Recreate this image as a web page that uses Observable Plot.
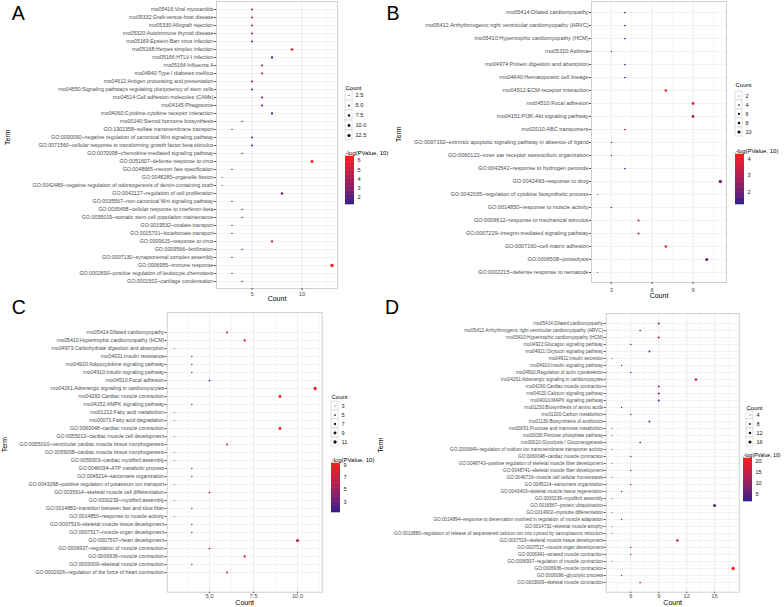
<!DOCTYPE html>
<html><head><meta charset="utf-8">
<script src="https://cdn.jsdelivr.net/npm/d3@7"></script>
<script src="https://cdn.jsdelivr.net/npm/@observablehq/plot@0.6"></script>
<style>
html,body{margin:0;padding:0;background:#fff;}
#fig{position:relative;width:784px;height:607px;overflow:hidden;font-family:'Liberation Sans',Arial,Helvetica,sans-serif;background:#fff;}
.letter{position:absolute;font-size:19.5px;line-height:1;color:#000;}
</style></head><body><div id="fig"></div>
<script>
// ---------- Panel A ----------
const termsA = [
"rno05416:Viral myocarditis","rno05332:Graft-versus-host disease","rno05330:Allograft rejection",
"rno05320:Autoimmune thyroid disease","rno05169:Epstein-Barr virus infection","rno05168:Herpes simplex infection",
"rno05166:HTLV-I infection","rno05164:Influenza A","rno04940:Type I diabetes mellitus",
"rno04612:Antigen processing and presentation","rno04550:Signaling pathways regulating pluripotency of stem cells",
"rno04514:Cell adhesion molecules (CAMs)","rno04145:Phagosome","rno04060:Cytokine-cytokine receptor interaction",
"rno00140:Steroid hormone biosynthesis","GO:1902358~sulfate transmembrane transport",
"GO:0090090~negative regulation of canonical Wnt signaling pathway",
"GO:0071560~cellular response to transforming growth factor beta stimulus",
"GO:0070098~chemokine-mediated signaling pathway","GO:0051607~defense response to virus",
"GO:0048665~neuron fate specification","GO:0048285~organelle fission",
"GO:0042489~negative regulation of odontogenesis of dentin-containing tooth",
"GO:0042127~regulation of cell proliferation","GO:0035567~non-canonical Wnt signaling pathway",
"GO:0035458~cellular response to interferon-beta","GO:0035019~somatic stem cell population maintenance",
"GO:0019532~oxalate transport","GO:0015701~bicarbonate transport","GO:0009615~response to virus",
"GO:0009566~fertilization","GO:0007130~synaptonemal complex assembly","GO:0006955~immune response",
"GO:0002690~positive regulation of leukocyte chemotaxis","GO:0001502~cartilage condensation"];
const countA = [5,5,5,5,5,9,7,6,6,5,5,6,6,7,4,3,5,5,4,11,3,2,2,8,3,4,4,3,3,7,4,3,13,3,4];
const logpA  = [3.5,3.8,3.8,3.6,2.2,5.3,1.8,2.7,4.8,2.5,1.9,2.4,2.3,2.2,2.0,1.9,1.6,1.6,1.7,6.1,1.5,1.4,1.4,2.0,1.5,2.4,2.0,1.6,1.4,4.6,1.5,1.5,6.4,1.6,3.0];
const xTicksA = [5, 10];
const sizeBreaksA = [2.5, 5, 7.5, 10, 12.5];
const colorTicksA = [2, 3, 4, 5, 6];
const colorDomainA = [1.25, 6.45];

// ---------- Panel B ----------
const termsB = [
"rno05414:Dilated cardiomyopathy","rno05412:Arrhythmogenic right ventricular cardiomyopathy (ARVC)",
"rno05410:Hypertrophic cardiomyopathy (HCM)","rno05310:Asthma","rno04974:Protein digestion and absorption",
"rno04640:Hematopoietic cell lineage","rno04512:ECM-receptor interaction","rno04510:Focal adhesion",
"rno04151:PI3K-Akt signaling pathway","rno02010:ABC transporters",
"GO:0097192~extrinsic apoptotic signaling pathway in absence of ligand",
"GO:0060122~inner ear receptor stereocilium organization","GO:0042542~response to hydrogen peroxide",
"GO:0042493~response to drug","GO:0042035~regulation of cytokine biosynthetic process",
"GO:0014850~response to muscle activity","GO:0009612~response to mechanical stimulus",
"GO:0007229~integrin-mediated signaling pathway","GO:0007160~cell-matrix adhesion",
"GO:0006508~proteolysis","GO:0002215~defense response to nematode"];
const countB = [4,4,4,3,4,4,7,9,9,4,3,3,4,11,2,3,5,5,7,10,2];
const logpB  = [1.8,1.8,1.7,1.5,1.6,1.5,4.0,3.9,3.0,2.3,1.5,1.4,1.6,2.2,1.3,1.4,2.6,2.6,4.26,1.9,1.3];
const xTicksB = [3, 6, 9];
const sizeBreaksB = [2, 4, 6, 8, 10];
const colorTicksB = [2, 3, 4];
const colorDomainB = [1.26, 4.26];

// ---------- Panel C ----------
const termsC = [
"rno05414:Dilated cardiomyopathy","rno05410:Hypertrophic cardiomyopathy (HCM)",
"rno04973:Carbohydrate digestion and absorption","rno04931:Insulin resistance",
"rno04920:Adipocytokine signaling pathway","rno04910:Insulin signaling pathway","rno04510:Focal adhesion",
"rno04261:Adrenergic signaling in cardiomyocytes","rno04260:Cardiac muscle contraction",
"rno04152:AMPK signaling pathway","rno01212:Fatty acid metabolism","rno00071:Fatty acid degradation",
"GO:0060048~cardiac muscle contraction","GO:0055013~cardiac muscle cell development",
"GO:0055010~ventricular cardiac muscle tissue morphogenesis","GO:0055008~cardiac muscle tissue morphogenesis",
"GO:0055003~cardiac myofibril assembly","GO:0046034~ATP metabolic process","GO:0045214~sarcomere organization",
"GO:0043268~positive regulation of potassium ion transport","GO:0035914~skeletal muscle cell differentiation",
"GO:0030239~myofibril assembly","GO:0014883~transition between fast and slow fiber",
"GO:0014850~response to muscle activity","GO:0007519~skeletal muscle tissue development",
"GO:0007517~muscle organ development","GO:0007507~heart development",
"GO:0006937~regulation of muscle contraction","GO:0006936~muscle contraction",
"GO:0003009~skeletal muscle contraction","GO:0002026~regulation of the force of heart contraction"];
const countC = [6,7,3,4,4,4,5,11,9,4,3,3,9,3,6,3,3,4,4,3,5,3,4,3,4,4,10,5,7,4,6];
const logpC  = [7.0,7.6,2.0,2.5,2.5,2.0,1.6,9.2,8.8,3.0,1.8,1.7,9.0,2.2,7.8,3.0,2.4,3.2,3.5,2.2,4.2,2.8,4.0,2.8,2.5,2.3,6.3,5.0,8.0,4.0,8.0];
const xTicksC = [5, 7.5, 10];
const sizeBreaksC = [3, 5, 7, 9, 11];
const colorTicksC = [3, 5, 7, 9];
const colorDomainC = [1.3, 9.2];

// ---------- Panel D ----------
const termsD = [
"rno05414:Dilated cardiomyopathy","rno05412:Arrhythmogenic right ventricular cardiomyopathy (ARVC)",
"rno05410:Hypertrophic cardiomyopathy (HCM)","rno04922:Glucagon signaling pathway",
"rno04921:Oxytocin signaling pathway","rno04911:Insulin secretion","rno04910:Insulin signaling pathway",
"rno04810:Regulation of actin cytoskeleton","rno04261:Adrenergic signaling in cardiomyocytes",
"rno04260:Cardiac muscle contraction","rno04020:Calcium signaling pathway","rno04010:MAPK signaling pathway",
"rno01230:Biosynthesis of amino acids","rno01200:Carbon metabolism","rno01130:Biosynthesis of antibiotics",
"rno00051:Fructose and mannose metabolism","rno00030:Pentose phosphate pathway",
"rno00010:Glycolysis / Gluconeogenesis",
"GO:2000649~regulation of sodium ion transmembrane transporter activity",
"GO:0060048~cardiac muscle contraction","GO:0048743~positive regulation of skeletal muscle fiber development",
"GO:0048741~skeletal muscle fiber development","GO:0046716~muscle cell cellular homeostasis",
"GO:0045214~sarcomere organization","GO:0043403~skeletal muscle tissue regeneration",
"GO:0030239~myofibril assembly","GO:0016567~protein ubiquitination","GO:0014902~myotube differentiation",
"GO:0014894~response to denervation involved in regulation of muscle adaptation",
"GO:0014732~skeletal muscle atrophy",
"GO:0010880~regulation of release of sequestered calcium ion into cytosol by sarcoplasmic reticulum",
"GO:0007519~skeletal muscle tissue development","GO:0007517~muscle organ development",
"GO:0006941~striated muscle contraction","GO:0006937~regulation of muscle contraction",
"GO:0006936~muscle contraction","GO:0006096~glycolytic process","GO:0003009~skeletal muscle contraction"];
const countD = [9,7,9,6,8,4,5,6,13,9,9,9,5,6,8,4,4,7,4,6,4,6,4,6,5,4,15,4,5,4,4,11,6,6,4,17,5,7];
const logpD  = [13,8,14,3,4,2,2.5,2.5,17,15,8,5,3,3,4,3,3,7,3,8,4,8,4,9,5,5,5,4,5,4,4,16,9,9,7,21,7,12];
const xTicksD = [6, 9, 12, 15];
const sizeBreaksD = [4, 8, 12, 16];
const colorTicksD = [5, 10, 15, 20];
const colorDomainD = [1.5, 21.2];

// ---------- drawing ----------
const FONT = "'Liberation Sans', Arial, Helvetica, sans-serif";
const LOW = "#221f8e", HIGH = "#ff1a1a";
const R_RANGE = [0.5, 1.65];
const fig = document.getElementById("fig");
const baseStyle = {background: "none", overflow: "visible", maxWidth: "none", fontFamily: FONT};

function place(node, left, top) {
  node.style.position = "absolute";
  node.style.left = left + "px";
  node.style.top = top + "px";
  fig.appendChild(node);
}
const colorScale = dom => ({type: "linear", domain: dom, range: [LOW, HIGH], interpolate: "lab"});
const rScale = counts => ({type: "sqrt", domain: d3.extent(counts), range: R_RANGE});

function mainPanel(P) {
  const data = P.terms.map((term, i) => ({term, count: P.counts[i], logp: P.logp[i]}));
  const [lo, hi] = d3.extent(P.counts);
  const ex = (hi - lo) * 0.05;
  const xDom = [lo - ex, hi + ex];
  const step = P.ticks[1] - P.ticks[0];
  const minor = d3.range(P.ticks[0] - step * 2.5, xDom[1], step).filter(v => v > xDom[0] && v < xDom[1]);
  const M = P.m;
  const svg = Plot.plot({
    width: M.w, height: M.h,
    marginLeft: M.ml, marginRight: M.mr, marginTop: M.mt, marginBottom: M.mb,
    style: baseStyle,
    x: {domain: xDom},
    y: {type: "point", domain: P.terms, padding: 0.6},
    r: rScale(P.counts),
    color: colorScale(P.cDom),
    marks: [
      Plot.gridX(minor, {stroke: "#f0f0f0", strokeOpacity: 1, strokeWidth: 0.5}),
      Plot.gridX(P.ticks, {stroke: "#e8e8e8", strokeOpacity: 1, strokeWidth: 0.8}),
      Plot.gridY(P.terms, {stroke: "#ececec", strokeOpacity: 1, strokeWidth: 0.7}),
      Plot.frame({stroke: "#c4c4c4", strokeWidth: 0.8}),
      Plot.dot(data, {x: "count", y: "term", r: "count", fill: "logp"}),
      Plot.axisX(P.ticks, {tickSize: M.ts, tickPadding: M.tp, fontSize: M.xfs, stroke: "#555", fill: "#4d4d4d", label: null, tickFormat: P.fmt}),
      Plot.axisY(P.terms, {tickSize: 2, tickPadding: 1, fontSize: M.fs, stroke: "#555", fill: "#4d4d4d", label: null}),
      Plot.text(["Count"], {text: d => d, frameAnchor: "bottom", dy: M.countDy, fontSize: 7, fill: "#000"}),
      Plot.text(["Term"], {text: d => d, frameAnchor: "left", dx: M.termDx, rotate: -90, fontSize: 7, fill: "#000"})
    ]
  });
  place(svg, M.left, M.top);
}

function sizeLegend(P) {
  const L = P.sl, n = P.sizeBreaks.length, keyW = 7;
  const svg = Plot.plot({
    width: keyW + 30, height: 10 + L.keyH * n + 1,
    marginLeft: 0, marginRight: 30, marginTop: 10, marginBottom: 1,
    style: baseStyle,
    y: {type: "band", domain: P.sizeBreaks, padding: 0, axis: null},
    r: rScale(P.counts),
    marks: [
      Plot.cell(P.sizeBreaks, {y: d => d, fill: "white", stroke: "#cccccc", strokeWidth: 0.6}),
      Plot.dot(P.sizeBreaks, {y: d => d, r: d => d, fill: "#111"}),
      Plot.text(P.sizeBreaks, {y: d => d, text: P.sizeFmt, frameAnchor: "right", textAnchor: "start", dx: 3, fontSize: 5.6, fill: "#222"}),
      Plot.text(["Count"], {text: d => d, frameAnchor: "top-left", textAnchor: "start", dy: L.titleY - L.frameTop, fontSize: 6, fill: "#000"})
    ]
  });
  place(svg, L.left, L.frameTop - 10);
}

function colorLegend(P) {
  const L = P.cl, barW = 9;
  const [lo, hi] = P.cDom, N = 60;
  const steps = d3.range(N).map(i => ({a: lo + (hi - lo) * i / N, b: lo + (hi - lo) * (i + 1) / N}));
  const H = L.barBottom - L.barTop;
  const svg = Plot.plot({
    width: barW + 40, height: H + 12,
    marginLeft: 0, marginRight: 40, marginTop: 10, marginBottom: 2,
    style: baseStyle,
    y: {domain: P.cDom},
    color: colorScale(P.cDom),
    marks: [
      Plot.rect(steps, {y1: "a", y2: "b", fill: d => (d.a + d.b) / 2, insetTop: -0.3, insetBottom: -0.3}),
      Plot.axisY(P.cTicks, {anchor: "right", tickSize: 0, tickPadding: 3, fontSize: 5.6, fill: "#222", label: null}),
      Plot.text(["-log(PValue, 10)"], {text: d => d, frameAnchor: "top-left", textAnchor: "start", dy: L.titleY - L.barTop, fontSize: L.tfs, fill: "#000"})
    ]
  });
  place(svg, L.left, L.barTop - 10);
}

const int = d3.format("d"), one = d3.format(".1f");
const panels = [
  {terms: termsA, counts: countA, logp: logpA, ticks: xTicksA, fmt: int, cDom: colorDomainA, cTicks: colorTicksA,
   sizeBreaks: sizeBreaksA, sizeFmt: one,
   m: {left: 0, top: 0, w: 392, h: 305, ml: 216, mr: 55, mt: 1, mb: 17, fs: 5.3, xfs: 5.8, ts: 2, tp: 1.5, countDy: 12.7, termDx: -209},
   sl: {left: 345, frameTop: 89.2, keyH: 10.2, titleY: 85.7},
   cl: {left: 345, barTop: 156, barBottom: 204, titleY: 150.5, tfs: 6}},
  {terms: termsB, counts: countB, logp: logpB, ticks: xTicksB, fmt: int, cDom: colorDomainB, cTicks: colorTicksB,
   sizeBreaks: sizeBreaksB, sizeFmt: int,
   m: {left: 392, top: 0, w: 392, h: 305, ml: 199, mr: 58, mt: 1, mb: 23, fs: 5.5, xfs: 5.8, ts: 2, tp: 3.5, countDy: 15.7, termDx: -192.3},
   sl: {left: 735, frameTop: 89.2, keyH: 9.67, titleY: 82.7},
   cl: {left: 735, barTop: 154, barBottom: 204, titleY: 148, tfs: 6}},
  {terms: termsC, counts: countC, logp: logpC, ticks: xTicksC, fmt: one, cDom: colorDomainC, cTicks: colorTicksC,
   sizeBreaks: sizeBreaksC, sizeFmt: int,
   m: {left: 0, top: 305, w: 392, h: 302, ml: 166.7, mr: 70.3, mt: 7, mb: 15.3, fs: 5.2, xfs: 5.8, ts: 1.5, tp: 0.5, countDy: 12.3, termDx: -162.7},
   sl: {left: 331, frameTop: 399.7, keyH: 9.25, titleY: 394.3},
   cl: {left: 331, barTop: 463.3, barBottom: 512.3, titleY: 457.5, tfs: 6}},
  {terms: termsD, counts: countD, logp: logpD, ticks: xTicksD, fmt: int, cDom: colorDomainD, cTicks: colorTicksD,
   sizeBreaks: sizeBreaksD, sizeFmt: int,
   m: {left: 392, top: 305, w: 392, h: 302, ml: 213.7, mr: 45.3, mt: 8, mb: 15.3, fs: 4.7, xfs: 5.8, ts: 1.5, tp: 0.5, countDy: 12.3, termDx: -225.7},
   sl: {left: 746, frameTop: 409.5, keyH: 9, titleY: 405},
   cl: {left: 743, barTop: 458, barBottom: 501, titleY: 452.5, tfs: 5.2}}
];
for (const P of panels) { mainPanel(P); sizeLegend(P); colorLegend(P); }

const letters = [["A", 11.7, 3.5], ["B", 386.5, 3.5], ["C", 11.7, 298], ["D", 385, 298]];
for (const [t, x, y] of letters) {
  const d = document.createElement("div");
  d.className = "letter"; d.textContent = t;
  d.style.left = x + "px"; d.style.top = y + "px";
  fig.appendChild(d);
}
</script></body></html>
